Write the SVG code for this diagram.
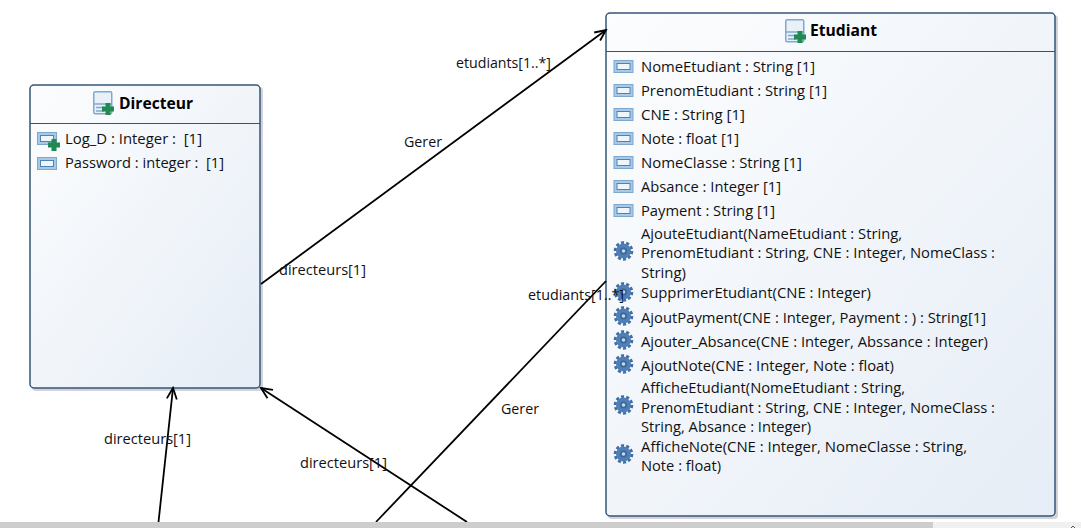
<svg xmlns="http://www.w3.org/2000/svg" width="1081" height="528" viewBox="0 0 1081 528">
<style>
text{font-family:"Open Sans","Noto Sans","Liberation Sans",sans-serif;font-size:14px;fill:#111;white-space:pre;}
.t{font-weight:700;font-size:16px;fill:#000}
.box{stroke:#34557a;stroke-width:1.5}
.sh{fill:#d2d2d8}
.div{stroke:#34557a;stroke-width:1.2}
.c{fill:none;stroke:#000;stroke-width:1.8}
</style>
<defs>
<linearGradient id="g" x1="0" y1="0" x2="1" y2="1"><stop offset="0" stop-color="#fcfdfe"/><stop offset="1" stop-color="#e6edf6"/></linearGradient>
<marker id="a" markerUnits="userSpaceOnUse" markerWidth="14" markerHeight="14" refX="12" refY="6" viewBox="0 0 14 12" orient="auto"><path d="M1 1L12 6L1 11" fill="none" stroke="#000" stroke-width="1.8"/></marker>
<g id="attr"><rect x="0.500" y="0.500" width="19" height="12" fill="#a9c8e4" stroke="#7ba7d0"/><rect x="3.500" y="3.500" width="13" height="6" fill="#eef5fb" stroke="#4d84b8"/></g>
<g id="plus"><path d="M-2.500-6h5v3.500h3.500v5h-3.500v3.500h-5v-3.500h-3.500v-5h3.500z" fill="#1f8a52"/></g>
<g id="cls"><rect x="0.750" y="0.750" width="18" height="22" rx="1.500" fill="#e8f0f8" stroke="#7fa8d0" stroke-width="1.500"/><path d="M1 13h17M3 16.500h8M3 20h8" stroke="#7fa8d0" stroke-width="1.300" fill="none"/></g>
<g id="op"><circle r="8.300" fill="none" stroke="#3f6ea3" stroke-width="3" stroke-dasharray="3 2.200"/><circle r="7.500" fill="#4f7fb5"/><circle r="3.500" fill="#3a679b"/><circle r="1.800" fill="#c8d9ea"/></g>
</defs>
<g id="Directeur">
<rect class="sh" x="32" y="87" width="231" height="304" rx="4"/>
<rect class="box" x="30" y="85" width="230" height="303" rx="4" fill="url(#g)"/>
<path class="div" d="M30 123.500H260"/>
<use href="#cls" x="93" y="91"/><use href="#plus" x="108" y="109"/>
<text class="t" x="119" y="109" textLength="74" lengthAdjust="spacingAndGlyphs">Directeur</text>
<use href="#attr" x="37" y="132"/><use href="#plus" x="54" y="145"/>
<text x="65" y="144" textLength="137" lengthAdjust="spacingAndGlyphs">Log_D : Integer :  [1]</text>
<use href="#attr" x="37" y="157"/>
<text x="65" y="168" textLength="159" lengthAdjust="spacingAndGlyphs">Password : integer :  [1]</text>
</g>
<g id="Etudiant">
<rect class="sh" x="608" y="15" width="450" height="504" rx="4"/>
<rect class="box" x="606" y="13" width="449" height="503" rx="4" fill="url(#g)"/>
<path class="div" d="M606 51.500H1055"/>
<use href="#cls" x="785" y="19"/><use href="#plus" x="800" y="37"/>
<text class="t" x="810" y="36" textLength="67" lengthAdjust="spacingAndGlyphs">Etudiant</text>
<use href="#attr" x="613.500" y="60"/><text x="641" y="72" textLength="174" lengthAdjust="spacingAndGlyphs">NomeEtudiant : String [1]</text>
<use href="#attr" x="613.500" y="84"/><text x="641" y="96" textLength="186" lengthAdjust="spacingAndGlyphs">PrenomEtudiant : String [1]</text>
<use href="#attr" x="613.500" y="108"/><text x="641" y="120" textLength="104" lengthAdjust="spacingAndGlyphs">CNE : String [1]</text>
<use href="#attr" x="613.500" y="132"/><text x="641" y="144" textLength="98" lengthAdjust="spacingAndGlyphs">Note : float [1]</text>
<use href="#attr" x="613.500" y="156"/><text x="641" y="168" textLength="161" lengthAdjust="spacingAndGlyphs">NomeClasse : String [1]</text>
<use href="#attr" x="613.500" y="180"/><text x="641" y="192" textLength="140" lengthAdjust="spacingAndGlyphs">Absance : Integer [1]</text>
<use href="#attr" x="613.500" y="204"/><text x="641" y="216" textLength="134" lengthAdjust="spacingAndGlyphs">Payment : String [1]</text>
<use href="#op" x="623.500" y="251"/>
<text x="641" y="239" textLength="261" lengthAdjust="spacingAndGlyphs">AjouteEtudiant(NameEtudiant : String,</text>
<text x="641" y="258" textLength="354" lengthAdjust="spacingAndGlyphs">PrenomEtudiant : String, CNE : Integer, NomeClass :</text>
<text x="641" y="278" textLength="45" lengthAdjust="spacingAndGlyphs">String)</text>
<use href="#op" x="623.500" y="292"/><text x="641" y="298" textLength="230" lengthAdjust="spacingAndGlyphs">SupprimerEtudiant(CNE : Integer)</text>
<use href="#op" x="623.500" y="316"/><text x="641" y="323" textLength="345" lengthAdjust="spacingAndGlyphs">AjoutPayment(CNE : Integer, Payment : ) : String[1]</text>
<use href="#op" x="623.500" y="340"/><text x="641" y="347" textLength="347" lengthAdjust="spacingAndGlyphs">Ajouter_Absance(CNE : Integer, Abssance : Integer)</text>
<use href="#op" x="623.500" y="364"/><text x="641" y="371" textLength="253" lengthAdjust="spacingAndGlyphs">AjoutNote(CNE : Integer, Note : float)</text>
<use href="#op" x="623.500" y="405"/>
<text x="641" y="393" textLength="264" lengthAdjust="spacingAndGlyphs">AfficheEtudiant(NomeEtudiant : String,</text>
<text x="641" y="413" textLength="354" lengthAdjust="spacingAndGlyphs">PrenomEtudiant : String, CNE : Integer, NomeClass :</text>
<text x="641" y="432" textLength="170" lengthAdjust="spacingAndGlyphs">String, Absance : Integer)</text>
<use href="#op" x="623.500" y="454"/>
<text x="641" y="452" textLength="326" lengthAdjust="spacingAndGlyphs">AfficheNote(CNE : Integer, NomeClasse : String,</text>
<text x="641" y="471" textLength="80" lengthAdjust="spacingAndGlyphs">Note : float)</text>
</g>
<g id="connectors">
<path class="c" d="M261 284L606 30" marker-end="url(#a)"/>
<path class="c" d="M158.500 522L173 388" marker-end="url(#a)"/>
<path class="c" d="M467 522L261 388" marker-end="url(#a)"/>
<path class="c" d="M376 522L606 281"/>
</g>
<g id="labels">
<text x="456" y="68" textLength="95" lengthAdjust="spacingAndGlyphs">etudiants[1..*]</text>
<text x="404" y="147" textLength="38" lengthAdjust="spacingAndGlyphs">Gerer</text>
<text x="279" y="275" textLength="87" lengthAdjust="spacingAndGlyphs">directeurs[1]</text>
<text x="528" y="300" textLength="96" lengthAdjust="spacingAndGlyphs">etudiants[1..*]</text>
<text x="501" y="414" textLength="38" lengthAdjust="spacingAndGlyphs">Gerer</text>
<text x="104" y="444" textLength="87" lengthAdjust="spacingAndGlyphs">directeurs[1]</text>
<text x="300" y="468" textLength="87" lengthAdjust="spacingAndGlyphs">directeurs[1]</text>
</g>
<g id="scrollbar">
<rect x="0" y="522" width="1081" height="6" fill="#f0f0f0"/>
<rect x="0" y="522" width="933" height="6" fill="#cdcdcd"/>
<path d="M1071 528L1073 526L1075 528" fill="none" stroke="#555" stroke-width="1"/>
</g>
</svg>
